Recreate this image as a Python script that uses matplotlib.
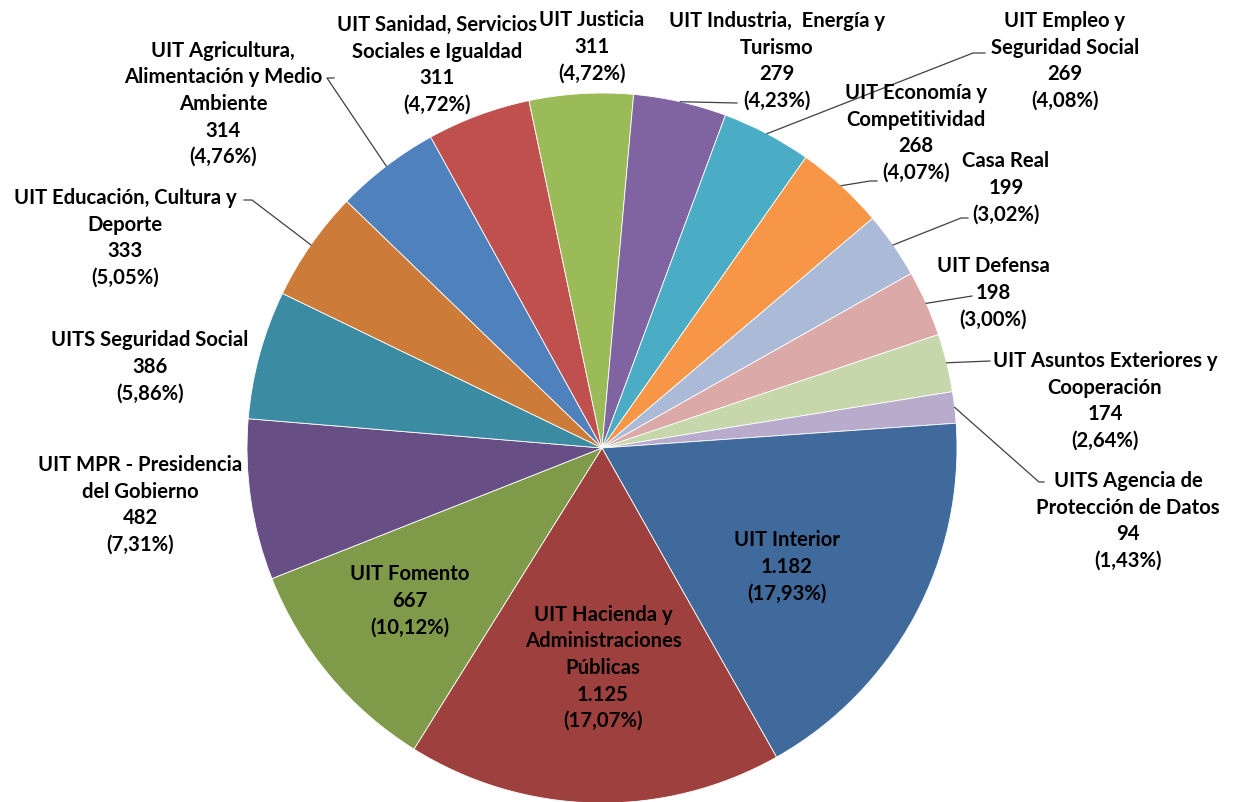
import matplotlib
matplotlib.use("Agg")
import matplotlib.pyplot as plt
import numpy as np

# ---------------- data ----------------
categories = [
    "UIT Agricultura,\nAlimentación y Medio\nAmbiente",
    "UIT Sanidad, Servicios\nSociales e Igualdad",
    "UIT Justicia",
    "UIT Industria,  Energía y\nTurismo",
    "UIT Empleo y\nSeguridad Social",
    "UIT Economía y\nCompetitividad",
    "Casa Real",
    "UIT Defensa",
    "UIT Asuntos Exteriores y\nCooperación",
    "UITS Agencia de\nProtección de Datos",
    "UIT Interior",
    "UIT Hacienda y\nAdministraciones\nPúblicas",
    "UIT Fomento",
    "UIT MPR - Presidencia\ndel Gobierno",
    "UITS Seguridad Social",
    "UIT Educación, Cultura y\nDeporte",
]
values = [314, 311, 311, 279, 269, 268, 199, 198, 174, 94, 1182, 1125, 667, 482, 386, 333]

colors = ["#4F81BD", "#C0504D", "#9BBB59", "#8064A2", "#4BACC6", "#F79646",
          "#AABAD7", "#DBA9A8", "#C6D7AC", "#B8ABCB",
          "#3F6A9B", "#9E413E", "#7F9A48", "#674E84", "#3B8BA2", "#CD7B38"]

# ---------------- layout (pixel coords, y from top) ----------------
W, H = 1238, 803
CX, CY, R = 602, 449, 355

def P(x, y):
    return (x, H - y)

label_layout = [
    dict(pos=(223, 104), end=(334, 79), elbow=(327, 79)),     # Agricultura
    dict(pos=(437, 65)),                                       # Sanidad
    dict(pos=(592, 47)),                                       # Justicia
    dict(pos=(777, 61), end=(737, 104)),                       # Industria
    dict(pos=(1065, 61), end=(985, 54), elbow=(973, 54)),      # Empleo
    dict(pos=(916, 133), end=(877, 182), elbow=(870, 182)),    # Economia
    dict(pos=(1006, 188), end=(968, 219), elbow=(961, 219)),   # Casa Real
    dict(pos=(993, 293), end=(972, 297)),                      # Defensa
    dict(pos=(1105, 401), end=(990, 362)),                     # Asuntos
    dict(pos=(1128, 521), end=(1044, 483), elbow=(1039, 483)), # Agencia
    dict(pos=(787, 567)),                                      # Interior
    dict(pos=(603, 668)),                                      # Hacienda
    dict(pos=(410, 601)),                                      # Fomento
    dict(pos=(140, 505)),                                      # MPR
    dict(pos=(150, 367)),                                      # Seg Social
    dict(pos=(125, 238), end=(244, 201), elbow=(252, 201)),    # Educacion
]

plt.rcParams['font.family'] = ['Lato', 'DejaVu Sans']

fig = plt.figure(figsize=(W / 100, H / 100), dpi=100)
ax = fig.add_axes([0, 0, 1, 1])

wedges, _ = ax.pie(values, colors=colors, startangle=136, counterclock=False,
                   center=P(CX, CY), radius=R,
                   wedgeprops=dict(linewidth=0.6, edgecolor="white"))
ax.set_xlim(0, W)
ax.set_ylim(0, H)
ax.set_aspect("equal")
ax.axis("off")

total = sum(values)

def fmt_int(v):
    return f"{v:,}".replace(",", ".")

def fmt_pct(v):
    return f"({v / total * 100:.2f}%)".replace(".", ",")

for w, name, v, lay in zip(wedges, categories, values, label_layout):
    txt = f"{name}\n{fmt_int(v)}\n{fmt_pct(v)}"
    ax.text(*P(*lay["pos"]), txt, ha="center", va="center",
            fontsize=14.6, fontweight="bold", color="black",
            linespacing=1.41)
    if "end" in lay:
        mid = np.deg2rad((w.theta1 + w.theta2) / 2)
        sx = CX + R * np.cos(mid)
        sy = H - (CY - R * np.sin(mid))
        ex, ey = P(*lay["end"])
        xs, ys = [sx], [sy]
        if "elbow" in lay:
            bx, by = P(*lay["elbow"])
            xs += [bx, ex]
            ys += [by, ey]
        else:
            xs.append(ex)
            ys.append(ey)
        ax.plot(xs, ys, color="#404040", linewidth=0.9)

fig.savefig("out.png", dpi=100)
